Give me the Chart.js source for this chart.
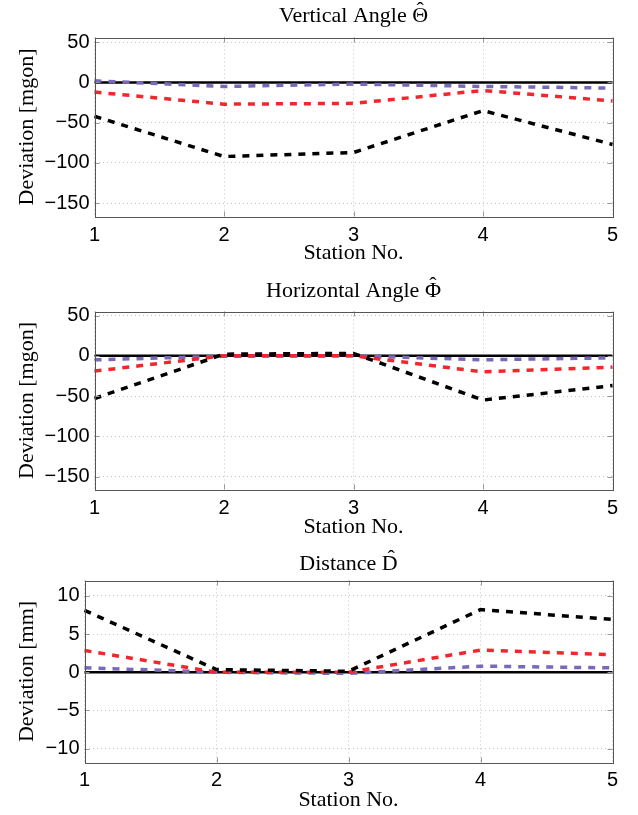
<!DOCTYPE html>
<html><head><meta charset="utf-8">
<script src="https://cdn.jsdelivr.net/npm/chart.js@4.4.0/dist/chart.umd.min.js"></script>
<style>
html,body{margin:0;padding:0;background:#fff;width:638px;height:815px;overflow:hidden;}
.panel{position:absolute;left:0;width:638px;}
canvas{display:block;}
</style></head><body>
<div class="panel" style="top:0px;height:272px"><canvas id="c1" width="638" height="272"></canvas></div>
<div class="panel" style="top:274px;height:269px"><canvas id="c2" width="638" height="269"></canvas></div>
<div class="panel" style="top:543px;height:272px"><canvas id="c3" width="638" height="272"></canvas></div>
<script>
// ---- data ----
const stations = ['1', '2', '3', '4', '5'];
const zeroLine = [0, 0, 0, 0, 0];

const vertBlack  = [-42, -92, -87, -35, -77];
const vertRed    = [-12, -27, -26, -10, -23];
const vertPurple = [2, -5, -2, -5, -7];

const horBlack  = [-53, 2, 3, -55, -37];
const horRed    = [-19, 0, 0, -20, -14];
const horPurple = [-5, -0.5, 0, -5, -2.5];

const distBlack  = [8.1, 0.35, 0.13, 8.2, 6.9];
const distRed    = [2.85, 0, 0, 2.9, 2.3];
const distPurple = [0.6, 0, -0.15, 0.8, 0.57];

const angleTicks = [50, 0, -50, -100, -150];
const distTicks  = [10, 5, 0, -5, -10];

const titles = ['Vertical Angle \u0398', 'Horizontal Angle \u03A6', 'Distance D'];
const yTitles = ['Deviation [mgon]', 'Deviation [mgon]', 'Deviation [mm]'];
const xTitle = 'Station No.';

// ---- styling ----
const BLACK = '#000000', RED = '#f0282d', PURPLE = '#7a68b8';
const SERIF = "'Liberation Serif', 'DejaVu Serif', serif";
const SANS = "'Liberation Sans', Arial, sans-serif";

const boxPlugin = {
  id: 'box',
  afterDatasetsDraw(chart) {
    const {ctx, chartArea: a, scales} = chart;
    ctx.save();
    const tl = 5;
    ctx.beginPath();
    scales.y.ticks.forEach(t => {
      const py = Math.round(scales.y.getPixelForValue(t.value)) + 0.5;
      ctx.moveTo(a.left, py); ctx.lineTo(a.left + tl, py);
      ctx.moveTo(a.right, py); ctx.lineTo(a.right - tl, py);
    });
    scales.x.ticks.forEach((t, i) => {
      const px = Math.round(scales.x.getPixelForTick(i)) + 0.5;
      ctx.moveTo(px, a.bottom); ctx.lineTo(px, a.bottom - tl);
      ctx.moveTo(px, a.top); ctx.lineTo(px, a.top + tl);
    });
    ctx.lineWidth = 1;
    ctx.strokeStyle = '#999';
    ctx.stroke();
    ctx.strokeStyle = '#555';
    ctx.strokeRect(Math.round(a.left) + 0.5, Math.round(a.top) + 0.5,
                   Math.round(a.right - a.left), Math.round(a.bottom - a.top));
    ctx.restore();
  },
  afterDraw(chart) {
    // hat accent over the last letter of the title
    const tb = chart.titleBlock;
    const o = chart.options.plugins.title;
    if (!tb || !o.display) return;
    const ctx = chart.ctx;
    const size = o.font.size;
    ctx.save();
    ctx.font = size + 'px ' + SERIF;
    const text = o.text;
    const full = ctx.measureText(text).width;
    const lw = ctx.measureText(text.slice(-1)).width;
    const cx = (tb.left + tb.right) / 2;
    const letterCx = cx + full / 2 - lw / 2 + (chart.canvas.id === 'c3' ? 1.5 : 0);
    const cy = tb.top + o.padding.top + size * 1.2 / 2;
    ctx.fillStyle = '#000';
    ctx.textAlign = 'center';
    ctx.textBaseline = 'middle';
    ctx.fillText('\u02C6', letterCx, cy - size * 0.22);
    ctx.restore();
  }
};

function makeChart(id, p) {
  const H = p.H;
  const titleLH = p.titleSize * 1.2;
  const axLH = p.axSize * 1.2;
  const tickLH = 20 * 1.2;
  const ds = (data, color, dashed, width) => ({
    data, borderColor: color, borderWidth: width, pointRadius: 0,
    borderDash: dashed ? [7, 7] : [], borderCapStyle: 'butt', tension: 0, fill: false
  });
  return new Chart(document.getElementById(id), {
    type: 'line',
    data: {
      labels: stations,
      datasets: [
        ds(p.black, BLACK, true, 3.5),
        ds(p.red, RED, true, 3.5),
        ds(p.purple, PURPLE, true, 3.5),
        ds(zeroLine, BLACK, false, 2.5)
      ]
    },
    options: {
      responsive: false,
      animation: false,
      devicePixelRatio: 1,
      layout: {padding: {top: 0, left: 0, right: 638 - p.right, bottom: 0}},
      plugins: {
        legend: {display: false},
        tooltip: {enabled: false},
        title: {
          display: true, text: p.title, color: '#000', fullSize: false,
          font: {family: SERIF, size: p.titleSize, weight: 'normal'},
          padding: {top: p.titleCenter - titleLH / 2, bottom: p.top - (p.titleCenter + titleLH / 2)}
        }
      },
      scales: {
        x: {
          type: 'category',
          offset: false,
          grid: {color: '#c4c4c4', lineWidth: 1, drawTicks: false},
          border: {display: false, dash: [1, 3]},
          ticks: {color: '#000', font: {family: SANS, size: 20}, padding: p.tickCenter - p.bottom - tickLH / 2, maxRotation: 0},
          title: {display: true, text: xTitle, color: '#000', font: {family: SERIF, size: p.axSize},
                  padding: {top: 0, bottom: H - p.xTitleCenter - axLH / 2}},
          afterFit(s) { s.height = H - p.bottom; }
        },
        y: {
          type: 'linear',
          min: p.min, max: p.max,
          afterBuildTicks(s) { s.ticks = p.ticks.map(v => ({value: v})); },
          grid: {color: '#c4c4c4', lineWidth: 1, drawTicks: false},
          border: {display: false, dash: [1, 3]},
          ticks: {color: '#000', font: {family: SANS, size: 20}, padding: 5,
                  callback: v => String(v).replace('-', '\u2212')},
          title: {display: true, text: p.yTitle, color: '#000', font: {family: SERIF, size: p.axSize},
                  padding: {top: p.yTitleCenter - axLH / 2, bottom: 0}},
          afterFit(s) { s.width = p.left; }
        }
      }
    },
    plugins: [boxPlugin]
  });
}

makeChart('c1', {H: 272, top: 37.5, bottom: 216.5, left: 94.5, right: 612.5, titleCenter: 16, tickCenter: 235, xTitleCenter: 253,
  yTitleCenter: 27, titleSize: 22, axSize: 22, min: -166.5, max: 55.8, ticks: angleTicks,
  black: vertBlack, red: vertRed, purple: vertPurple, title: titles[0], yTitle: yTitles[0]});
makeChart('c2', {H: 269, top: 37.5, bottom: 215.5, left: 94.5, right: 612.5, titleCenter: 17, tickCenter: 234, xTitleCenter: 253,
  yTitleCenter: 27, titleSize: 22, axSize: 22, min: -166, max: 55, ticks: angleTicks,
  black: horBlack, red: horRed, purple: horPurple, title: titles[1], yTitle: yTitles[1]});
makeChart('c3', {H: 272, top: 37.5, bottom: 219.5, left: 84.5, right: 612.5, titleCenter: 21, tickCenter: 237, xTitleCenter: 257,
  yTitleCenter: 27, titleSize: 22, axSize: 22, min: -11.8, max: 12, ticks: distTicks,
  black: distBlack, red: distRed, purple: distPurple, title: titles[2], yTitle: yTitles[2]});
</script>
</body></html>
